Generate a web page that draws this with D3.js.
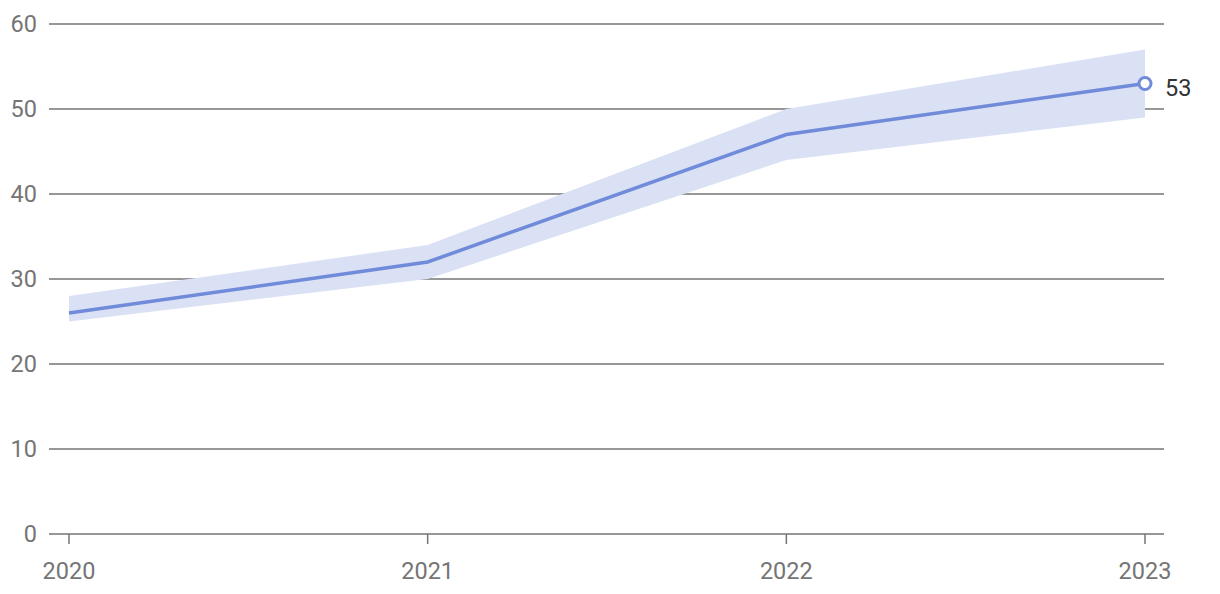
<!DOCTYPE html>
<html><head><meta charset="utf-8">
<script src="https://cdn.jsdelivr.net/npm/d3@7"></script>
<style>body{margin:0;background:#fff}svg{display:block}</style>
</head><body>
<svg id="c" width="1220" height="594"></svg>
<script>
const years = ["2020","2021","2022","2023"];
const values = [26, 32, 47, 53];
const upper = [28, 34, 50, 57];
const lower = [25, 30, 44, 49];
const yTicks = [0,10,20,30,40,50,60];

const svg = d3.select("#c");
const x = d3.scalePoint().domain(years).range([69, 1145]);
const y = d3.scaleLinear().domain([0,60]).range([534, 24]);
const font = "Roboto, sans-serif";
const grey = "#757575";
const fs = 23.5;

svg.append("g").selectAll("line").data(yTicks).join("line")
  .attr("x1", 49).attr("x2", 1164)
  .attr("y1", d=>y(d)).attr("y2", d=>y(d))
  .attr("stroke", grey).attr("stroke-width", 1.5);
svg.append("g").selectAll("text").data(yTicks).join("text")
  .attr("x", 37).attr("y", d=>y(d)).attr("dy","0.35em")
  .attr("text-anchor","end").attr("font-family",font).attr("font-size",fs)
  .attr("fill", grey).text(d=>d);

svg.append("g").selectAll("line").data(years).join("line")
  .attr("x1", d=>x(d)).attr("x2", d=>x(d))
  .attr("y1", 534).attr("y2", 544)
  .attr("stroke", grey).attr("stroke-width", 1.5);
svg.append("g").selectAll("text").data(years).join("text")
  .attr("x", d=>x(d)).attr("y", 579)
  .attr("text-anchor","middle").attr("font-family",font).attr("font-size",fs)
  .attr("fill", grey).text(d=>d);

const idx = years.map((d,i)=>i);
svg.append("path").datum(idx)
  .attr("d", d3.area().x(i=>x(years[i])).y0(i=>y(lower[i])).y1(i=>y(upper[i])))
  .attr("fill", "#dbe1f5");
svg.append("path").datum(idx)
  .attr("d", d3.line().x(i=>x(years[i])).y(i=>y(values[i])))
  .attr("fill","none").attr("stroke","#6f8bd9").attr("stroke-width",3.5);

const last = values.length-1;
svg.append("circle").attr("cx", x(years[last])).attr("cy", y(values[last]))
  .attr("r", 6).attr("fill","#fff").attr("stroke","#6f8bd9").attr("stroke-width",3);
svg.append("text").attr("x", x(years[last])+20).attr("y", y(values[last])+4).attr("dy","0.35em")
  .attr("font-family",font).attr("font-size",fs).attr("fill","#333").text(values[last]);
</script>
</body></html>
